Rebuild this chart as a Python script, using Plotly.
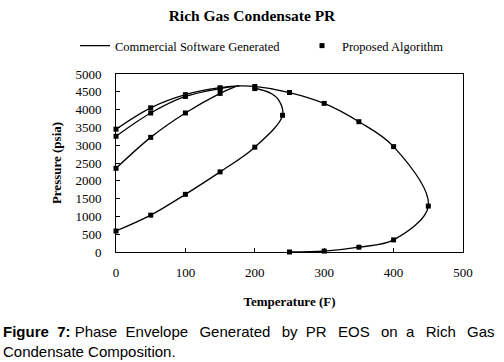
import plotly.graph_objects as go

# Outer envelope (dew + bubble)
outer_T = [0, 50, 100, 150, 178, 200, 250, 300, 350, 400, 450, 400, 350, 300, 250]
outer_P = [3450, 4050, 4420, 4615, 4665, 4650, 4480, 4175, 3660, 2960, 1290, 340, 135, 25, 0]
# Quality line 2
q2_T = [0, 50, 100, 150, 178]
q2_P = [3250, 3905, 4370, 4590, 4665]
# Quality line 3
q3_T = [0, 50, 100, 150, 172]
q3_P = [2350, 3220, 3905, 4455, 4645]
# Inner loop
loop_T = [0, 50, 100, 150, 200, 240, 234, 222, 200]
loop_P = [590, 1035, 1620, 2250, 2945, 3840, 4280, 4470, 4600]

# Proposed algorithm markers
mk_T = [0, 50, 100, 150, 200, 250, 300, 350, 400, 450, 400, 350, 300, 250,
        0, 50, 100, 150,
        0, 50, 100, 150,
        0, 50, 100, 150, 200, 240, 200]
mk_P = [3450, 4050, 4420, 4615, 4650, 4480, 4175, 3660, 2960, 1290, 340, 135, 25, 0,
        3250, 3905, 4370, 4590,
        2350, 3220, 3905, 4455,
        590, 1035, 1620, 2250, 2945, 3840, 4590]

fig = go.Figure()
first = True
for T, P in [(outer_T, outer_P), (q2_T, q2_P), (q3_T, q3_P), (loop_T, loop_P)]:
    fig.add_trace(go.Scatter(x=T, y=P, mode="lines",
                             line=dict(color="black", width=1.3, shape="spline", smoothing=1.0),
                             name="Commercial Software Generated", legendgroup="c",
                             showlegend=first, cliponaxis=False, legend="legend"))
    first = False
fig.add_trace(go.Scatter(x=mk_T, y=mk_P, mode="markers",
                         marker=dict(symbol="square", size=5, color="black"),
                         name="Proposed Algorithm", cliponaxis=False, legend="legend2"))

serif = "Liberation Serif"
leg_common = dict(orientation="h", xref="container", yref="container",
                  xanchor="left", y=1 - 46 / 362, yanchor="middle",
                  font=dict(family=serif, size=12.5), itemwidth=30,
                  bgcolor="rgba(0,0,0,0)", borderwidth=0)
fig.update_layout(
    width=504, height=362,
    margin=dict(l=116, r=41, t=74, b=110, autoexpand=False),
    paper_bgcolor="white", plot_bgcolor="white",
    font=dict(family=serif, color="black", size=13),
    title=dict(text="<b>Rich Gas Condensate PR</b>", x=0.5, xanchor="center",
               xref="container", yref="container",
               y=1 - 16 / 362, yanchor="middle", font=dict(family=serif, size=15.5)),
    legend=dict(x=75 / 504, **leg_common),
    legend2=dict(x=302 / 504, **leg_common),
    showlegend=True,
)
fig.update_xaxes(range=[0, 500], tickvals=[0, 100, 200, 300, 400, 500], automargin=False,
                 showline=True, linecolor="black", linewidth=1, mirror=True,
                 ticks="inside", ticklen=4, tickcolor="black", showgrid=False, zeroline=False,
                 tickfont=dict(family=serif, size=13), ticklabelstandoff=8,
                 title=dict(text="<b>Temperature (F)</b>", font=dict(family=serif, size=13), standoff=18))
fig.update_yaxes(range=[0, 5000], tickvals=list(range(0, 5001, 500)), automargin=False,
                 showline=True, linecolor="black", linewidth=1, mirror=True,
                 ticks="inside", ticklen=4, tickcolor="black", showgrid=False, zeroline=False,
                 tickfont=dict(family=serif, size=13), ticklabelstandoff=11,
                 title=dict(text="<b>Pressure (psia)</b>", font=dict(family=serif, size=13), standoff=10))

g = "\u00a0 "
w = "\u2009\u00a0 "
line1 = ("<b>Figure\u00a0 7:</b> Phase" + g + "Envelope" + w + "Generated" + w + "by" + g + "PR"
         + w + "EOS" + w + "on" + g + "a" + w + "Rich" + w + "Gas")
fig.add_annotation(xref="paper", yref="paper", x=(1 - 115.7) / 347.6, y=(252.5 - 342) / 178.2,
                   xanchor="left", yanchor="middle", align="left", showarrow=False,
                   text=line1 + "<br>Condensate Composition.",
                   font=dict(family="Liberation Sans", size=15, color="black"))

fig.write_html("out.html", config={"displayModeBar": False},
               post_script="document.body.style.margin='0';")
